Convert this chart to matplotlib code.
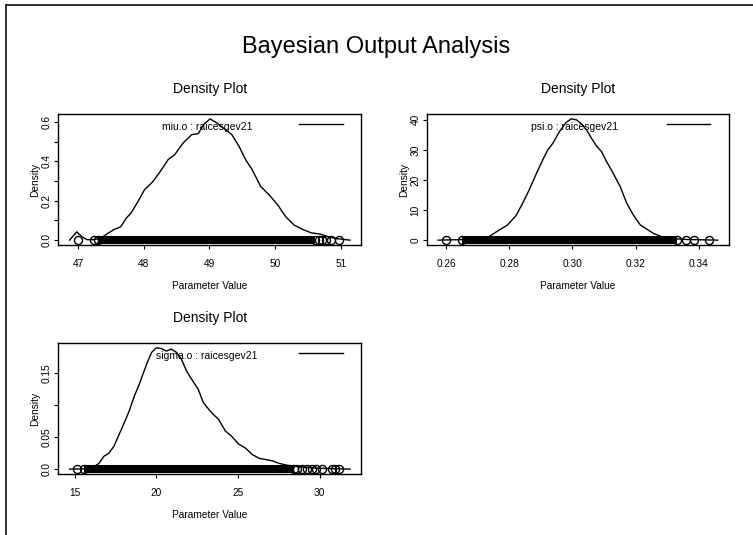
import matplotlib
matplotlib.use("Agg")
import matplotlib.pyplot as plt
from matplotlib.lines import Line2D
import numpy as np

plt.rcParams['font.family'] = ['Liberation Sans', 'DejaVu Sans']

# density curves
miu_x = [46.87, 46.98, 47.06, 47.14, 47.24, 47.34, 47.45, 47.55, 47.65, 47.73, 47.81, 47.91,
         48.01, 48.14, 48.27, 48.37, 48.47, 48.60, 48.73, 48.83, 48.91, 49.01, 49.11, 49.24,
         49.34, 49.45, 49.55, 49.65, 49.78, 49.91, 50.04, 50.16, 50.29, 50.42, 50.55, 50.68,
         50.81, 50.93, 51.14]
miu_y = [0.0, 0.042, 0.017, 0.002, 0.003, 0.008, 0.034, 0.054, 0.068, 0.11, 0.139, 0.195,
         0.255, 0.297, 0.357, 0.408, 0.433, 0.493, 0.535, 0.54, 0.586, 0.615, 0.595, 0.561,
         0.535, 0.476, 0.408, 0.357, 0.272, 0.229, 0.178, 0.119, 0.076, 0.054, 0.037, 0.031,
         0.017, 0.008, 0.0]

psi_x = [0.2575, 0.2661, 0.2703, 0.2735, 0.2751, 0.2767, 0.2794, 0.2821, 0.2842, 0.2863,
         0.2884, 0.2906, 0.2922, 0.2938, 0.2959, 0.2980, 0.2996, 0.3012, 0.3028, 0.3044,
         0.3060, 0.3076, 0.3092, 0.3108, 0.3129, 0.3151, 0.3172, 0.3193, 0.3215, 0.3236,
         0.3257, 0.3284, 0.3311, 0.3364, 0.3460]
psi_y = [0.0, 0.2, 0.55, 1.1, 2.2, 3.3, 5.0, 8.1, 12.2, 16.7, 21.7, 26.7, 30.0, 32.2, 36.1,
         39.1, 40.3, 40.0, 38.7, 36.7, 33.9, 31.3, 29.4, 26.1, 22.2, 17.8, 12.2, 8.3, 5.0,
         3.6, 2.2, 1.1, 0.55, 0.2, 0.0]

sigma_x = [14.69, 15.56, 16.18, 16.49, 16.79, 17.10, 17.41, 17.72, 18.03, 18.34, 18.65, 18.96,
           19.17, 19.48, 19.72, 19.99, 20.30, 20.61, 20.92, 21.23, 21.54, 21.85, 22.16, 22.57,
           22.88, 23.40, 23.81, 24.22, 24.63, 25.05, 25.46, 25.87, 26.29, 26.70, 27.11, 27.52,
           28.04, 28.76, 29.79, 31.86]
sigma_y = [0.0, 0.0005, 0.004, 0.009, 0.020, 0.025, 0.036, 0.054, 0.072, 0.091, 0.114, 0.133,
           0.148, 0.169, 0.183, 0.190, 0.189, 0.185, 0.188, 0.183, 0.172, 0.154, 0.141, 0.125,
           0.104, 0.088, 0.078, 0.060, 0.051, 0.039, 0.033, 0.023, 0.017, 0.015, 0.013, 0.009,
           0.006, 0.004, 0.0016, 0.0]

# rug: dense band (start, end) plus single samples seen as separate circles
miu_band = [47.30, 50.60]
miu_pts = [47.0, 47.24, 47.30, 50.60, 50.66, 50.72, 50.78, 50.85, 50.97]
psi_band = [0.2650, 0.3330]
psi_pts = [0.2600, 0.2650, 0.3330, 0.3359, 0.3385, 0.3432]
sigma_band = [15.60, 28.40]
sigma_pts = [15.14, 15.60, 28.40, 28.60, 28.90, 29.20, 29.50, 29.80, 30.16, 30.75, 30.95, 31.20]

miu_ticks = [47, 48, 49, 50, 51]
psi_ticks = [0.26, 0.28, 0.30, 0.32, 0.34]
sigma_ticks = [15, 20, 25, 30]
miu_yticks = [0.0, 0.1, 0.2, 0.3, 0.4, 0.5, 0.6]
miu_ylabels = ['0.0', '', '0.2', '', '0.4', '', '0.6']
psi_yticks = [0, 10, 20, 30, 40]
psi_ylabels = ['0', '10', '20', '30', '40']
sigma_yticks = [0.0, 0.05, 0.10, 0.15]
sigma_ylabels = ['0.0', '0.05', '', '0.15']

fig = plt.figure(figsize=(7.53, 5.35), dpi=100)
fig.text(0.5, 0.912, 'Bayesian Output Analysis', ha='center', va='center', fontsize=17)

# window edge lines (top and left)
fig.add_artist(Line2D([5.5 / 753, 1.0], [1 - 4.5 / 535, 1 - 4.5 / 535], color='#222222', lw=1.3))
fig.add_artist(Line2D([5.5 / 753, 5.5 / 753], [0.0, 1 - 4.5 / 535], color='#222222', lw=1.3))


def panel(rect, xs, ys, band, pts, xticks, yticks, ylabels, name):
    ax = fig.add_axes(rect)
    ax.plot(xs, ys, color='black', lw=1.0)
    ax.plot(band, [0, 0], color='black', lw=5.8, solid_capstyle='butt')
    ax.plot(pts, [0] * len(pts), 'o', mfc='none', mec='black', ms=5.8, mew=1.0)
    xr = max(xs) - min(xs)
    yr = max(ys) - min(ys)
    ax.set_xlim(min(xs) - 0.04 * xr, max(xs) + 0.04 * xr)
    ax.set_ylim(min(ys) - 0.04 * yr, max(ys) + 0.04 * yr)
    ax.set_xticks(xticks)
    ax.set_xticklabels([('%g' % t) if t >= 1 else ('%.2f' % t) for t in xticks])
    ax.set_yticks(yticks)
    ax.set_yticklabels(ylabels, rotation=90, va='center')
    ax.tick_params(length=3, width=0.8, labelsize=7.3, direction='out')
    ax.tick_params(axis='x', pad=7)
    ax.tick_params(axis='y', pad=1.5)
    for s in ax.spines.values():
        s.set_linewidth(1.0)
    ax.set_xlabel('Parameter Value', fontsize=7.3, labelpad=9)
    ax.set_ylabel('Density', fontsize=7.3, labelpad=1.5)
    ax.set_title('Density Plot', fontsize=10, pad=15)
    ax.plot([0.795, 0.938], [0.924, 0.924], color='black', lw=1.0, transform=ax.transAxes)
    ax.text(0.49, 0.90, name + ' : raicesgev21', transform=ax.transAxes,
            ha='center', va='center', fontsize=7.5)
    return ax


panel([58.3 / 753, 1 - 245 / 535, 303 / 753, 131 / 535], miu_x, miu_y, miu_band, miu_pts,
      miu_ticks, miu_yticks, miu_ylabels, 'miu.o')
panel([427 / 753, 1 - 245 / 535, 302 / 753, 131 / 535], psi_x, psi_y, psi_band, psi_pts,
      psi_ticks, psi_yticks, psi_ylabels, 'psi.o')
panel([58.3 / 753, 1 - 474 / 535, 303 / 753, 131 / 535], sigma_x, sigma_y, sigma_band, sigma_pts,
      sigma_ticks, sigma_yticks, sigma_ylabels, 'sigma.o')

fig.savefig('out.png', dpi=100)
